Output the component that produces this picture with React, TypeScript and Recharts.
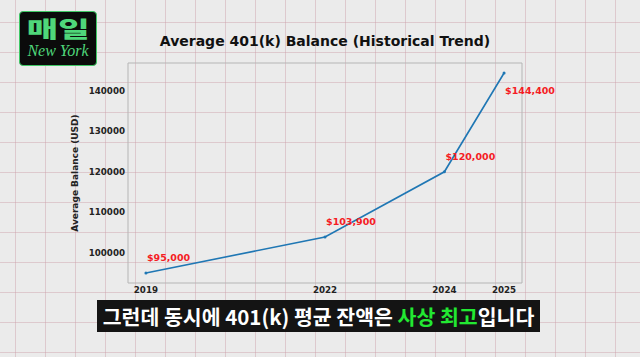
import React from "react";
import {
  LineChart,
  Line,
  XAxis,
  YAxis,
  ReferenceArea,
  LabelList,
} from "recharts";

const years = [2019, 2022, 2024, 2025];
const balances = [95000, 103900, 120000, 144400];
const yTicks = [100000, 110000, 120000, 130000, 140000];

const data = years.map((year, i) => ({ year, balance: balances[i] }));

// matplotlib-style 5% padding around the data
const xPad = (Math.max(...years) - Math.min(...years)) * 0.05;
const xMin = Math.min(...years) - xPad;
const xMax = Math.max(...years) + xPad;
const yPad = (Math.max(...balances) - Math.min(...balances)) * 0.05;
const yMin = Math.min(...balances) - yPad;
const yMax = Math.max(...balances) + yPad;

const FONT = "'DejaVu Sans', sans-serif";

const YLabel = ({ viewBox }: any) => {
  const cx = viewBox.x + 15;
  const cy = viewBox.y + viewBox.height / 2;
  return (
    <text
      x={cx}
      y={cy}
      transform={`rotate(-90 ${cx} ${cy})`}
      textAnchor="middle"
      dominantBaseline="central"
      fontFamily={FONT}
      fontWeight="bold"
      fontSize={9}
      fill="#222"
    >
      Average Balance (USD)
    </text>
  );
};

const ValueLabel = (props: any) => {
  const { x, y, value, index } = props;
  const last = index === balances.length - 1;
  return (
    <text
      x={x + 1}
      y={last ? y + 21 : y - 12}
      fontFamily={FONT}
      fontWeight="bold"
      fontSize={9.5}
      fill="#f51c24"
    >
      ${Number(value).toLocaleString("en-US")}
    </text>
  );
};

export default function App() {
  return (
    <div
      style={{
        position: "fixed",
        left: 0,
        top: 0,
        width: 640,
        height: 357,
        overflow: "hidden",
        backgroundColor: "#ebebeb",
        backgroundImage:
          "linear-gradient(to right, rgba(205,160,170,0.45) 1.5px, transparent 1.5px), linear-gradient(to bottom, rgba(205,160,170,0.45) 1.5px, transparent 1.5px)",
        backgroundSize: "30px 30px",
        backgroundPosition: "15px 22px",
      }}
    >
      {/* logo */}
      <div
        style={{
          position: "absolute",
          left: 19,
          top: 11,
          width: 76,
          height: 53,
          background: "#0b0b0b",
          border: "1.5px solid #3fc865",
          borderRadius: 4,
          color: "#4fd77a",
          textAlign: "center",
        }}
      >
        <div style={{ height: 28, marginTop: 1, lineHeight: "28px" }}>
          <span
            style={{
              display: "inline-block",
              fontFamily: "'Noto Sans CJK KR', sans-serif",
              fontWeight: 900,
              fontSize: 22,
              lineHeight: "28px",
              transform: "scaleX(1.55)",
            }}
          >
            매일
          </span>
        </div>
        <div
          style={{
            fontFamily: "'Liberation Serif', serif",
            fontStyle: "italic",
            fontSize: 16,
            lineHeight: "20px",
          }}
        >
          New York
        </div>
      </div>

      {/* title */}
      <div
        style={{
          position: "absolute",
          left: 0,
          top: 33,
          width: 650,
          textAlign: "center",
          fontFamily: FONT,
          fontWeight: "bold",
          fontSize: 14,
          color: "#111",
        }}
      >
        Average 401(k) Balance (Historical Trend)
      </div>

      <div style={{ position: "absolute", left: 0, top: 0 }}>
        <LineChart
          width={640}
          height={357}
          data={data}
          margin={{ top: 63, right: 118, bottom: 44, left: 60 }}
        >
          <ReferenceArea
            x1={xMin}
            x2={xMax}
            y1={yMin}
            y2={yMax}
            fill="none"
            stroke="#b5b5b5"
            strokeWidth={1}
          />
          <XAxis
            type="number"
            dataKey="year"
            domain={[xMin, xMax]}
            ticks={years}
            allowDataOverflow
            axisLine={false}
            tickLine={false}
            tickSize={0}
            height={30}
            tickMargin={4}
            tick={{ fontFamily: FONT, fontWeight: "bold", fontSize: 8.7, fill: "#222" }}
          />
          <YAxis
            type="number"
            domain={[yMin, yMax]}
            ticks={yTicks}
            allowDataOverflow
            axisLine={false}
            tickLine={false}
            tickSize={0}
            width={68}
            tickMargin={3}
            tick={{ fontFamily: FONT, fontWeight: "bold", fontSize: 8.7, fill: "#222" }}
            label={<YLabel />}
          />
          <Line
            type="linear"
            dataKey="balance"
            stroke="#1f77b4"
            strokeWidth={1.6}
            dot={{ r: 1.5, fill: "#1f77b4", stroke: "none" }}
            isAnimationActive={false}
          >
            <LabelList dataKey="balance" content={<ValueLabel />} />
          </Line>
        </LineChart>
      </div>

      {/* subtitle */}
      <div
        style={{
          position: "absolute",
          left: 97,
          top: 300,
          width: 443,
          height: 32,
          background: "#141414",
          color: "#fff",
          fontFamily: "'Noto Sans CJK KR', sans-serif",
          fontWeight: 700,
          fontSize: 20.5,
          lineHeight: "32px",
          textAlign: "center",
          whiteSpace: "nowrap",
        }}
      >
        그런데 동시에 401(k) 평균 잔액은{" "}
        <span style={{ color: "#22e832" }}>사상 최고</span>입니다
      </div>
    </div>
  );
}
